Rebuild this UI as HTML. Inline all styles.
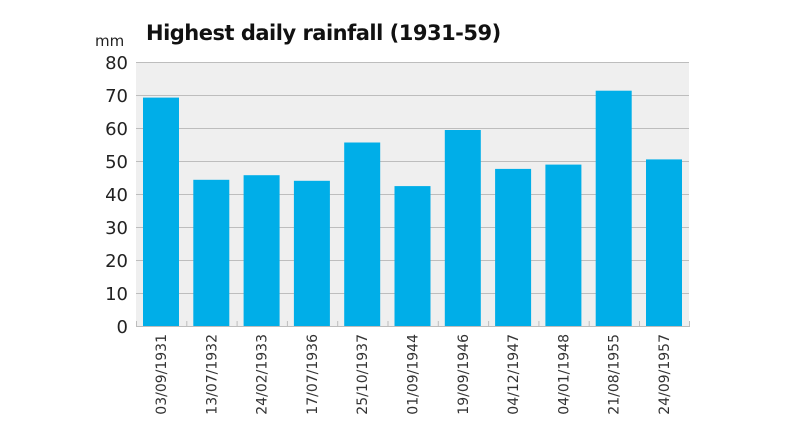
<!DOCTYPE html>
<html><head><meta charset="utf-8"><style>
html,body{margin:0;padding:0;background:#fff;}
svg{display:block;font-family:"DejaVu Sans","Liberation Sans",sans-serif;}
</style></head><body>
<svg width="800" height="425" viewBox="0 0 800 425" xmlns="http://www.w3.org/2000/svg">
<rect x="136" y="62" width="553" height="264" fill="#efefef"/>
<g stroke="#bdbdbd" stroke-width="1">
<line x1="136" x2="689" y1="62.5" y2="62.5"/>
<line x1="136" x2="689" y1="95.5" y2="95.5"/>
<line x1="136" x2="689" y1="128.5" y2="128.5"/>
<line x1="136" x2="689" y1="161.5" y2="161.5"/>
<line x1="136" x2="689" y1="194.5" y2="194.5"/>
<line x1="136" x2="689" y1="227.5" y2="227.5"/>
<line x1="136" x2="689" y1="260.5" y2="260.5"/>
<line x1="136" x2="689" y1="293.5" y2="293.5"/>
<line x1="136" x2="689" y1="326.5" y2="326.5"/>
</g>
<g fill="#00aee8">
<rect x="143" y="97.6" width="36" height="228.4"/>
<rect x="193.3" y="179.8" width="36" height="146.2"/>
<rect x="243.6" y="175.2" width="36" height="150.8"/>
<rect x="293.9" y="180.8" width="36" height="145.2"/>
<rect x="344.2" y="142.5" width="36" height="183.5"/>
<rect x="394.5" y="186.1" width="36" height="139.9"/>
<rect x="444.8" y="130" width="36" height="196"/>
<rect x="495.1" y="168.9" width="36" height="157.1"/>
<rect x="545.4" y="164.6" width="36" height="161.4"/>
<rect x="595.7" y="90.7" width="36" height="235.3"/>
<rect x="646" y="159.4" width="36" height="166.6"/>
</g>
<g stroke="#bdbdbd" stroke-width="1">
<line x1="136.5" x2="136.5" y1="321" y2="327"/><line x1="186.8" x2="186.8" y1="321" y2="327"/><line x1="237.1" x2="237.1" y1="321" y2="327"/><line x1="287.4" x2="287.4" y1="321" y2="327"/><line x1="337.7" x2="337.7" y1="321" y2="327"/><line x1="388" x2="388" y1="321" y2="327"/><line x1="438.3" x2="438.3" y1="321" y2="327"/><line x1="488.6" x2="488.6" y1="321" y2="327"/><line x1="538.9" x2="538.9" y1="321" y2="327"/><line x1="589.2" x2="589.2" y1="321" y2="327"/><line x1="639.5" x2="639.5" y1="321" y2="327"/><line x1="689.5" x2="689.5" y1="321" y2="327"/>
</g>
<g fill="#222" font-size="18" text-anchor="end">
<text x="128" y="69">80</text><text x="128" y="102">70</text><text x="128" y="135">60</text><text x="128" y="168">50</text><text x="128" y="201">40</text><text x="128" y="234">30</text><text x="128" y="267">20</text><text x="128" y="300">10</text><text x="128" y="333">0</text>
</g>
<text x="95" y="46" font-size="15" fill="#222">mm</text>
<text x="146" y="40" font-size="21" font-weight="bold" fill="#111" letter-spacing="-0.5">Highest daily rainfall (1931-59)</text>
<g fill="#333" font-size="14" text-anchor="end">
<text transform="translate(166,334) rotate(-90)">03/09/1931</text>
<text transform="translate(216.3,334) rotate(-90)">13/07/1932</text>
<text transform="translate(266.6,334) rotate(-90)">24/02/1933</text>
<text transform="translate(316.9,334) rotate(-90)">17/07/1936</text>
<text transform="translate(367.2,334) rotate(-90)">25/10/1937</text>
<text transform="translate(417.5,334) rotate(-90)">01/09/1944</text>
<text transform="translate(467.8,334) rotate(-90)">19/09/1946</text>
<text transform="translate(518.1,334) rotate(-90)">04/12/1947</text>
<text transform="translate(568.4,334) rotate(-90)">04/01/1948</text>
<text transform="translate(618.7,334) rotate(-90)">21/08/1955</text>
<text transform="translate(669,334) rotate(-90)">24/09/1957</text>
</g>
</svg>
</body></html>
